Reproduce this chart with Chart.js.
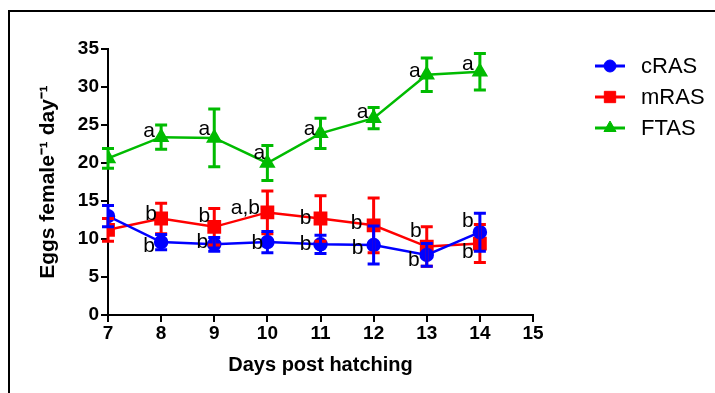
<!DOCTYPE html>
<html>
<head>
<meta charset="utf-8">
<script src="https://cdn.jsdelivr.net/npm/chart.js@4"></script>
<style>
  body { margin: 0; background: #fff; }
  #frame { position: absolute; left: 8px; top: 10px; width: 720px; height: 400px;
           border-top: 2px solid #000; border-left: 2px solid #000; }
  canvas { position: absolute; left: 0; top: 0; }
</style>
</head>
<body>
<div id="frame"></div>
<canvas id="c" width="715" height="393"></canvas>
<script>
// data
var days = [7, 8, 9, 10, 11, 12, 13, 14];
var xTicks = [7, 8, 9, 10, 11, 12, 13, 14, 15];
var yTicks = [0, 5, 10, 15, 20, 25, 30, 35];

var cRAS = [13.0, 9.6, 9.3, 9.6, 9.3, 9.2, 7.9, 10.9];
var cRASerr = [1.4, 1.0, 0.9, 1.4, 1.2, 2.5, 1.5, 2.5];
var mRAS = [11.2, 12.7, 11.6, 13.5, 12.7, 11.8, 9.0, 9.4];
var mRASerr = [1.5, 2.0, 2.4, 2.8, 3.0, 3.6, 2.6, 2.5];
var FTAS = [20.6, 23.4, 23.3, 20.0, 23.9, 25.9, 31.6, 32.0];
var FTASerr = [1.3, 1.6, 3.8, 2.3, 2.0, 1.4, 2.2, 2.4];

var cRASletters = ['', 'b', 'b', 'b', 'b', 'b', 'b', 'b'];
var mRASletters = ['', 'b', 'b', 'a,b', 'b', 'b', 'b', 'b'];
var FTASletters = ['', 'a', 'a', 'a', 'a', 'a', 'a', 'a'];

// where each letter sits relative to its point (px)
var cRASoff = [[0,0],[-12,4],[-12,-2],[-10,1],[-15,0],[-16,3],[-13,5],[-12,-11]];
var mRASoff = [[0,0],[-10,-4],[-10,-11],[-22,-4],[-15,0],[-17,-2],[-11,-15],[-12,9]];
var FTASoff = [[0,0],[-12,-6],[-10,-9],[-8,-10],[-11,-4],[-11,-6],[-12,-4],[-12,-8]];

var FONT = "'Liberation Sans', Arial, sans-serif";

function pts(vals) {
  return vals.map(function (v, i) { return { x: days[i], y: v }; });
}

var errorBars = {
  id: 'errorBars',
  afterDatasetsDraw: function (chart) {
    var ctx = chart.ctx, ys = chart.scales.y;
    for (var d = chart.data.datasets.length - 1; d >= 0; d--) {
      var ds = chart.data.datasets[d];
      var meta = chart.getDatasetMeta(d);
      ctx.save();
      ctx.strokeStyle = ds.borderColor;
      ctx.lineWidth = 3;
      meta.data.forEach(function (p, i) {
        var v = ds.data[i].y, e = ds.err[i];
        var top = ys.getPixelForValue(v + e), bot = ys.getPixelForValue(v - e);
        ctx.beginPath();
        ctx.moveTo(p.x, top); ctx.lineTo(p.x, bot);
        ctx.moveTo(p.x - 6, top); ctx.lineTo(p.x + 6, top);
        ctx.moveTo(p.x - 6, bot); ctx.lineTo(p.x + 6, bot);
        ctx.stroke();
      });
      ctx.restore();
    }
  }
};

var letters = {
  id: 'letters',
  afterDraw: function (chart) {
    var ctx = chart.ctx;
    ctx.save();
    ctx.fillStyle = '#000';
    ctx.font = '21px ' + FONT;
    ctx.textAlign = 'center';
    ctx.textBaseline = 'middle';
    chart.data.datasets.forEach(function (ds, d) {
      var meta = chart.getDatasetMeta(d);
      meta.data.forEach(function (p, i) {
        if (!ds.letters[i]) return;
        ctx.fillText(ds.letters[i], p.x + ds.letterOff[i][0], p.y + ds.letterOff[i][1]);
      });
    });
    ctx.restore();
  }
};

var sideLegend = {
  id: 'sideLegend',
  afterDraw: function (chart) {
    var ctx = chart.ctx;
    chart.data.datasets.forEach(function (ds, d) {
      var y = 66 + d * 31;
      ctx.save();
      ctx.strokeStyle = ds.borderColor;
      ctx.fillStyle = ds.borderColor;
      ctx.lineWidth = 3;
      ctx.beginPath(); ctx.moveTo(595, y); ctx.lineTo(625, y); ctx.stroke();
      ctx.lineWidth = 1;
      Chart.helpers.drawPoint(ctx, { pointStyle: ds.pointStyle, radius: ds.pointRadius, rotation: 0, borderWidth: 1 }, 610, y);
      ctx.fillStyle = '#000';
      ctx.font = '22px ' + FONT;
      ctx.textBaseline = 'middle';
      ctx.fillText(ds.label, 641, y + 1);
      ctx.restore();
    });
  }
};

function series(label, vals, err, lets, off, color, style, r) {
  return {
    label: label, data: pts(vals), err: err, letters: lets, letterOff: off,
    borderColor: color, backgroundColor: color, borderWidth: 2.5,
    pointStyle: style, pointRadius: r, pointBorderColor: color, pointBackgroundColor: color,
    fill: false, tension: 0
  };
}

new Chart(document.getElementById('c'), {
  type: 'line',
  data: {
    datasets: [
      series('cRAS', cRAS, cRASerr, cRASletters, cRASoff, '#0000ff', 'circle', 6),
      series('mRAS', mRAS, mRASerr, mRASletters, mRASoff, '#ff0000', 'rect', 8),
      series('FTAS', FTAS, FTASerr, FTASletters, FTASoff, '#00bb00', 'triangle', 7)
    ]
  },
  options: {
    responsive: false,
    devicePixelRatio: 1,
    animation: false,
    layout: { padding: { left: 32, top: 49, right: 182, bottom: 12 } },
    plugins: { legend: { display: false }, tooltip: { enabled: false } },
    scales: {
      x: {
        type: 'linear', min: 7, max: 15,
        afterBuildTicks: function (s) { s.ticks = xTicks.map(function (v) { return { value: v }; }); },
        afterFit: function (s) { s.height = 66; },
        ticks: { color: '#000', font: { family: FONT, size: 19, weight: 'bold' }, padding: 0, maxRotation: 0 },
        grid: { drawOnChartArea: false, color: '#000', lineWidth: 2, tickLength: 7 },
        border: { color: '#000', width: 2 },
        title: { display: true, text: 'Days post hatching', color: '#000',
                 font: { family: FONT, size: 20, weight: 'bold' }, padding: { top: 4, bottom: 4 } }
      },
      y: {
        min: 0, max: 35,
        afterBuildTicks: function (s) { s.ticks = yTicks.map(function (v) { return { value: v }; }); },
        afterFit: function (s) { s.width = 76; },
        ticks: { color: '#000', font: { family: FONT, size: 19, weight: 'bold' }, padding: 2 },
        grid: { drawOnChartArea: false, color: '#000', lineWidth: 2, tickLength: 7 },
        border: { color: '#000', width: 2 },
        title: { display: true, text: 'Eggs female\u207B\u00B9 day\u207B\u00B9', color: '#000',
                 font: { family: FONT, size: 21, weight: 'bold' }, padding: { top: 4, bottom: 4 } }
      }
    }
  },
  plugins: [errorBars, letters, sideLegend]
});
</script>
</body>
</html>
